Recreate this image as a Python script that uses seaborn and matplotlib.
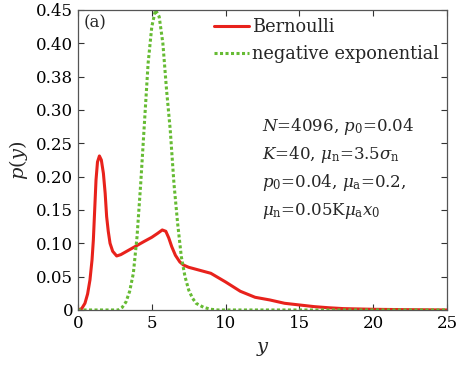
import matplotlib
matplotlib.use("Agg")
import matplotlib.pyplot as plt
import seaborn as sns

# Bernoulli curve
y_bern = [0, 0.25, 0.47, 0.65, 0.81, 0.95, 1.04, 1.13, 1.22, 1.32, 1.45, 1.58, 1.72, 1.84,
          1.94, 2.05, 2.17, 2.35, 2.62, 2.9, 3.3, 3.86, 4.5, 5.0, 5.4, 5.71, 5.95, 6.15,
          6.35, 6.6, 6.9, 7.14, 7.5, 8.0, 9.0, 10.0, 11.0, 12.0, 13.0, 14.0, 15.0, 16.0,
          17.0, 18.0, 20.0, 22.0, 25.0]
p_bern = [0, 0.002, 0.01, 0.024, 0.045, 0.075, 0.105, 0.15, 0.195, 0.222, 0.231, 0.225,
          0.205, 0.175, 0.14, 0.118, 0.10, 0.088, 0.081, 0.083, 0.088, 0.095, 0.103, 0.109,
          0.115, 0.12, 0.118, 0.108, 0.095, 0.082, 0.072, 0.0675, 0.064, 0.061, 0.055,
          0.042, 0.028, 0.019, 0.015, 0.01, 0.0075, 0.005, 0.0033, 0.002, 0.001, 0.0005, 0.0]

# negative exponential curve
y_negexp = [0, 2.5, 2.73, 3.0, 3.25, 3.5, 3.75, 4.0, 4.25, 4.5, 4.75, 5.0, 5.25, 5.5, 5.75,
            6.0, 6.25, 6.5, 6.75, 7.0, 7.25, 7.5, 7.75, 8.0, 8.5, 9.0, 9.5, 25.0]
p_negexp = [0, 0, 0, 0.004, 0.012, 0.028, 0.055, 0.11, 0.19, 0.28, 0.37, 0.425, 0.45, 0.44,
            0.40, 0.33, 0.27, 0.19, 0.13, 0.08, 0.05, 0.03, 0.018, 0.01, 0.004, 0.001, 0, 0]

x_ticks = [0, 5, 10, 15, 20, 25]
y_ticks = [0, 0.05, 0.10, 0.15, 0.20, 0.25, 0.30, 0.35, 0.40, 0.45]
y_tick_labels = ["0", "0.05", "0.10", "0.15", "0.20", "0.25", "0.30", "0.38", "0.40", "0.45"]

notes = [r"$N$=4096, $p_0$=0.04",
         r"$K$=40, $\mu_\mathrm{n}$=3.5$\sigma_\mathrm{n}$",
         r"$p_0$=0.04, $\mu_\mathrm{a}$=0.2,",
         r"$\mu_\mathrm{n}$=0.05K$\mu_\mathrm{a}x_0$"]

sns.set_style("ticks")
plt.rcParams["font.family"] = ["DejaVu Serif"]
plt.rcParams["mathtext.fontset"] = "dejavuserif"

fig = plt.figure(figsize=(4.57, 3.69), dpi=100)
ax = fig.add_axes([0.1707, 0.16, 0.8073, 0.813])

sns.lineplot(x=y_bern, y=p_bern, ax=ax, color="#e8221c", lw=2.2, label="Bernoulli")
sns.lineplot(x=y_negexp, y=p_negexp, ax=ax, color="#66bb33", lw=2.2,
             linestyle=(0, (1, 0.8)), label="negative exponential")

ax.set_xlim(0, 25)
ax.set_ylim(0, 0.45)
ax.set_xticks(x_ticks)
ax.set_xticklabels([str(t) for t in x_ticks])
ax.set_yticks(y_ticks)
ax.set_yticklabels(y_tick_labels)
ax.tick_params(direction="in", top=True, right=True, length=4, labelsize=12,
               colors="#333333", labelcolor="black")
for s in ax.spines.values():
    s.set_color("#555555")
    s.set_linewidth(0.9)

ax.set_xlabel(r"$y$", fontsize=14, labelpad=6)
ax.set_ylabel(r"$p(y)$", fontsize=14, labelpad=4)

ax.legend(loc="upper right", frameon=False, fontsize=12.8, handlelength=1.95,
          handletextpad=0.17, borderaxespad=0.05, borderpad=0.4, labelspacing=0.5)

ax.text(0.015, 0.985, "(a)", transform=ax.transAxes, fontsize=12, va="top", ha="left")
for i, t in enumerate(notes):
    ax.text(0.5, 0.61 - i * 0.093, t, transform=ax.transAxes, fontsize=12,
            va="center", ha="left")

fig.savefig("out.png", dpi=100)
